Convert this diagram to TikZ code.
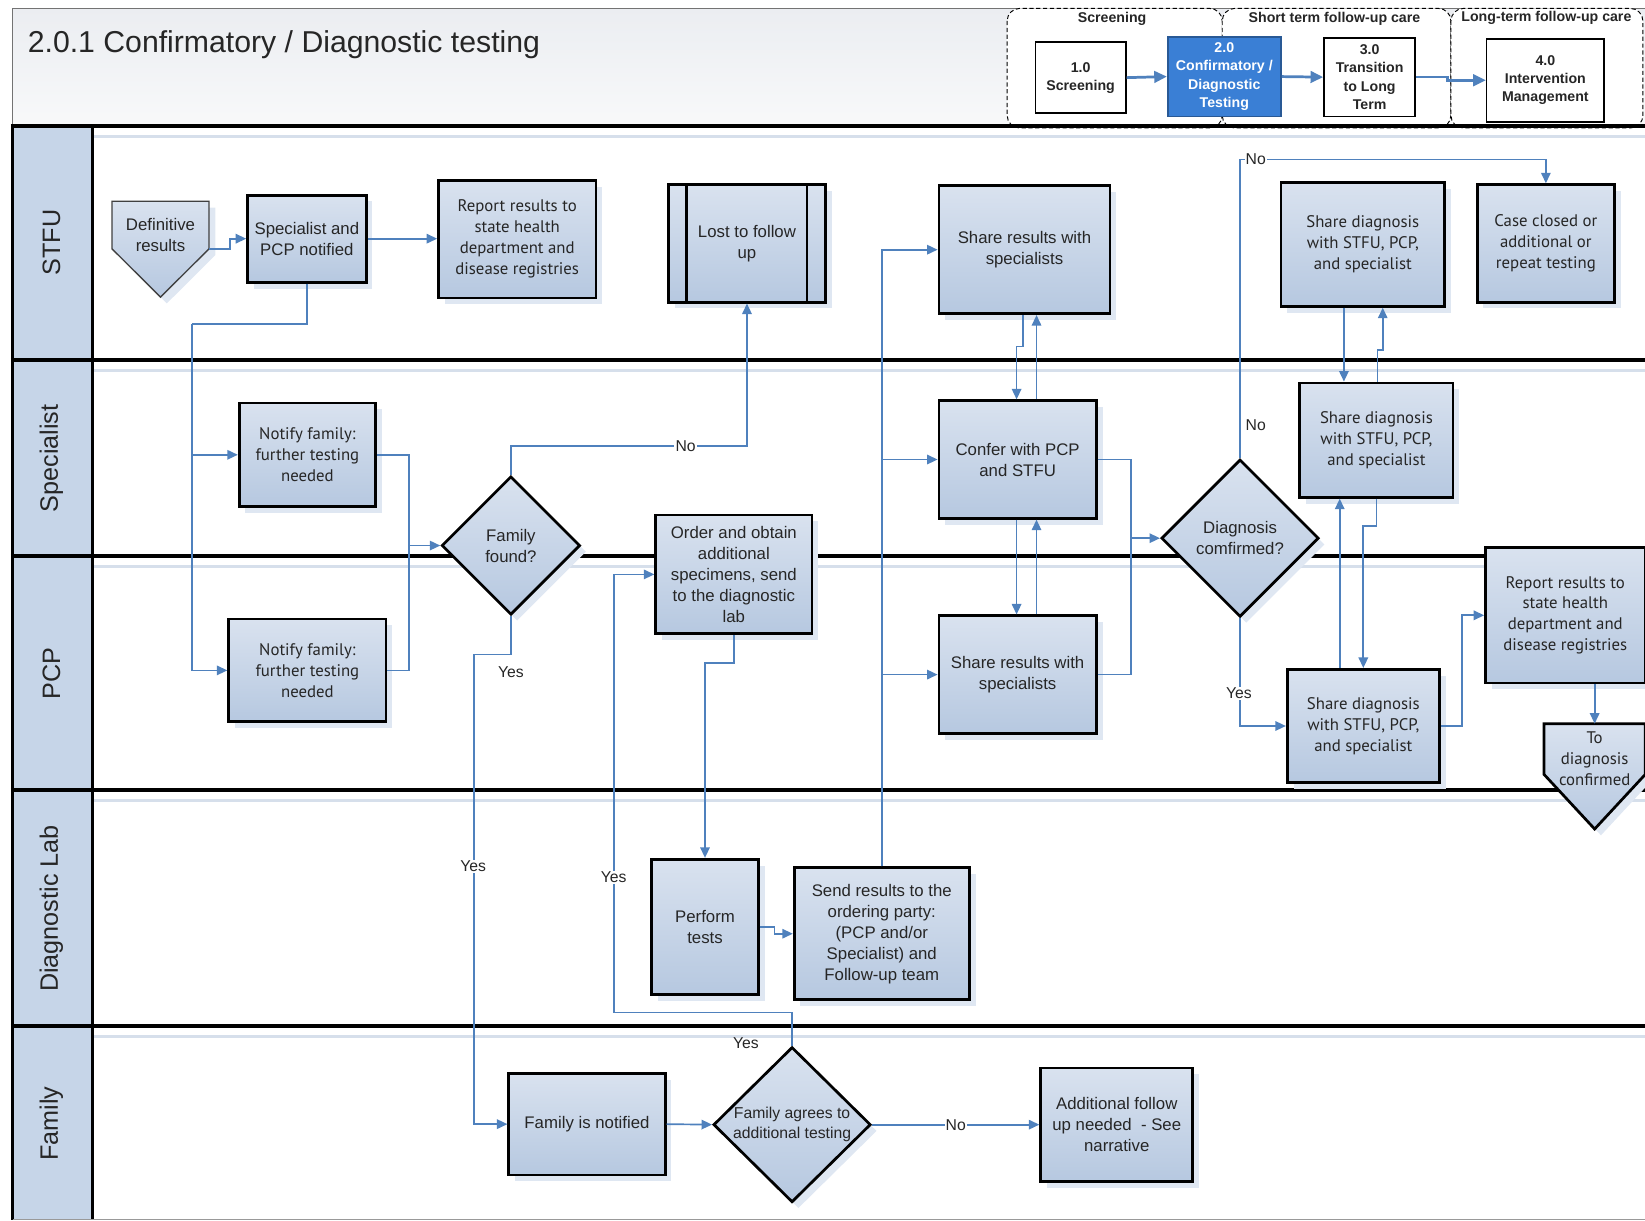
\documentclass[tikz,border=0pt]{standalone}
\usepackage{fontspec}
\setmainfont{Liberation Sans}
\newfontfamily\humanist{PT Sans}
\usetikzlibrary{shapes.geometric,arrows.meta,shadows,calc}

\definecolor{lanefill}{HTML}{C6D5E8}
\definecolor{flow}{HTML}{4F81BD}
\definecolor{boxtop}{HTML}{D9E2EF}
\definecolor{boxbot}{HTML}{B6C8E0}
\definecolor{boxshadow}{HTML}{DFE7F2}
\definecolor{stripe}{HTML}{D6DFEB}
\definecolor{stepblue}{HTML}{3A7FD5}
\definecolor{ink}{HTML}{262626}
\definecolor{titletop}{HTML}{EBEDF1}
\definecolor{titlebot}{HTML}{F8F9FA}

\tikzset{
  ar/.style={font=\fontsize{16}{20}\selectfont},
  hu/.style={font=\humanist\fontsize{16}{20}\selectfont},
  gradfill/.style={fill=boxbot,
     path picture={\shade[top color=boxtop, bottom color=boxbot]
       (path picture bounding box.north west) rectangle (path picture bounding box.south east);}},
  softshadow/.style={drop shadow={shadow xshift=6pt, shadow yshift=-6pt, fill=boxshadow, opacity=1}},
  proc/.style={draw=black, line width=2.6pt, gradfill, softshadow,
     align=center, inner sep=1pt, text=ink},
  decision/.style={proc, diamond, shape aspect=1, inner sep=0pt},
  anchorbox/.style={draw=none, fill=none, inner sep=0pt},
  conn/.style={draw=flow, line width=1.6pt},
  arr/.style={conn, -{Triangle[length=10pt,width=9pt]}},
  harr/.style={draw=flow, line width=2.6pt, -{Triangle[length=12pt,width=11pt]}},
  lbl/.style={font=\fontsize{15}{18}\selectfont, text=ink, fill=white, inner sep=1pt},
  lanelbl/.style={font=\fontsize{24}{28}\selectfont, text=ink, rotate=90},
  hgroup/.style={draw=black, line width=0.9pt, rounded corners=12pt, dash pattern=on 4pt off 2.5pt},
  hlabel/.style={font=\bfseries\fontsize{13.5}{15}\selectfont, text=ink},
  hstep/.style={draw=black, line width=1.6pt, fill=white, align=center,
     font=\bfseries\fontsize{13.5}{17.3}\selectfont, text=ink, inner sep=1pt},
}

\begin{document}
\begin{tikzpicture}[x=1pt,y=-1pt]
\useasboundingbox (0,0) rectangle (1568,1163);

% title band
\shade[top color=titletop, bottom color=titlebot] (12,8) rectangle (1568,120);
\draw[black!55, line width=1pt] (12,120) -- (12,8) -- (1568,8);
\node[anchor=west, font=\fontsize{28.8}{32}\selectfont, text=ink] (title) at (23,43)
  {2.0.1 Confirmatory / Diagnostic testing};

% process overview in the header
\draw[hgroup, fill=white] (960,8) rectangle (1165,122);
\draw[hgroup, fill=white] (1165,8) rectangle (1383,122);
\draw[hgroup, fill=white] (1383,8) rectangle (1566,122);
\node[hlabel] (gscr) at (1060,18) {Screening};
\node[hlabel] (gshort) at (1272,18) {Short term follow-up care};
\node[hlabel] (glong) at (1474,17) {Long-term follow-up care};
\node[hstep, minimum width=86pt, minimum height=68pt] (s1) at (1030,74) {1.0\\Screening};
\node[hstep, fill=stepblue, draw=stepblue!70!black, text=white, minimum width=108pt, minimum height=76pt]
  (s2) at (1167,73) {2.0\\Confirmatory /\\Diagnostic\\Testing};
\node[hstep, minimum width=87pt, minimum height=75pt] (s3) at (1305.5,73.5) {3.0\\Transition\\to Long\\Term};
\node[hstep, minimum width=112pt, minimum height=79pt] (s4) at (1473,76.5) {4.0\\Intervention\\Management};
\draw[harr] (s1.east) -- (s2.west);
\draw[harr] (s2.east) -- (s3.west);
\draw[harr] (s3.east) -- ++(30,0) |- (s4.west);

% swimlanes
\fill[lanefill] (12,120) rectangle (88,1163);
\foreach \yy in {120,343,530,753,978}{
  \draw[stripe, line width=3pt] (90,\yy+10) -- (1568,\yy+10);
}
\foreach \yy in {120,343,530,753,978}{
  \draw[black, line width=3.2pt] (10.4,\yy) -- (1568,\yy);
}
\draw[black, line width=3.2pt] (12,120) -- (12,1163);
\draw[black, line width=3.2pt] (88,120) -- (88,1163);
\draw[black!40, line width=1pt] (12,1162.5) -- (1568,1162.5);

\node[lanelbl] (lstfu) at (49,231) {STFU};
\node[lanelbl] (lspec) at (49,437) {Specialist};
\node[lanelbl] (lpcp) at (49,642) {PCP};
\node[lanelbl] (llab) at (49,866) {Diagnostic Lab};
\node[lanelbl] (lfam) at (49,1071) {Family};

% ---------- STFU ----------
\node[anchorbox, minimum width=92pt, minimum height=45pt] (def) at (153,214.5) {};
\filldraw[gradfill, softshadow, draw=black!75, line width=1.3pt]
  (def.north west) -- (def.north east) -- (def.south east) -- ($(def.south)+(0,46)$)
  -- (def.south west) -- cycle;
\node[ar, align=center, text=ink] (deftxt) at (153,224) {Definitive\\results};

\node[proc, ar, minimum width=113pt, minimum height=83pt] (spn) at (292.5,227.5) {Specialist and\\PCP notified};
\node[proc, hu, minimum width=150pt, minimum height=112pt] (rep1) at (493,228)
  {Report results to\\state health\\department and\\disease registries};
\node[proc, ar, minimum width=150pt, minimum height=112pt] (lost) at (712,232) {Lost to follow\\up};
\draw[black, line width=2.6pt] ([xshift=19pt]lost.north west) -- ([xshift=19pt]lost.south west);
\draw[black, line width=2.6pt] ([xshift=-19pt]lost.north east) -- ([xshift=-19pt]lost.south east);
\node[proc, ar, minimum width=163pt, minimum height=122pt] (shr1) at (976.5,238) {Share results with\\specialists};
\node[proc, hu, minimum width=156pt, minimum height=118pt] (sd1) at (1299,233)
  {Share diagnosis\\with STFU, PCP,\\and specialist};
\node[proc, hu, minimum width=131pt, minimum height=112pt] (cc) at (1473.5,232)
  {Case closed or\\additional or\\repeat testing};

% ---------- Specialist ----------
\node[proc, hu, minimum width=130pt, minimum height=99pt] (nf1) at (293,433.5)
  {Notify family:\\further testing\\needed};
\node[decision, ar, minimum width=132pt, minimum height=132pt] (ff) at (487,520) {Family\\found?};
\node[proc, ar, minimum width=149pt, minimum height=113pt] (ord) at (699.5,547.5)
  {Order and obtain\\additional\\specimens, send\\to the diagnostic\\lab};
\node[proc, ar, minimum width=150pt, minimum height=112pt] (conf) at (970,438) {Confer with PCP\\and STFU};
\node[decision, ar, minimum width=150pt, minimum height=150pt] (dc) at (1182,513) {Diagnosis\\comfirmed?};
\node[proc, hu, minimum width=146pt, minimum height=109pt] (sd2) at (1312,419.5)
  {Share diagnosis\\with STFU, PCP,\\and specialist};

% ---------- PCP ----------
\node[proc, hu, minimum width=150pt, minimum height=98pt] (nf2) at (293,639)
  {Notify family:\\further testing\\needed};
\node[proc, ar, minimum width=150pt, minimum height=112pt] (shr2) at (970,643) {Share results with\\specialists};
\node[proc, hu, minimum width=145pt, minimum height=108pt] (sd3) at (1299.5,692)
  {Share diagnosis\\with STFU, PCP,\\and specialist};
\node[proc, hu, minimum width=152pt, minimum height=129pt] (rep2) at (1492,586.5)
  {Report results to\\state health\\department and\\disease registries};
\node[anchorbox, minimum width=96pt, minimum height=48pt] (tdc) at (1520,714) {};
\filldraw[gradfill, softshadow, draw=black, line width=2.6pt]
  (tdc.north west) -- (tdc.north east) -- (tdc.south east) -- ($(tdc.south)+(0,52)$)
  -- (tdc.south west) -- cycle;
\node[hu, align=center, text=ink] (tdctxt) at (1520,723) {To\\diagnosis\\confirmed};

% ---------- Diagnostic Lab ----------
\node[proc, ar, minimum width=102pt, minimum height=129pt] (pt) at (672,883.5) {Perform\\tests};
\node[proc, ar, minimum width=167pt, minimum height=126pt] (sr) at (840.5,890)
  {Send results to the\\ordering party:\\(PCP and/or\\Specialist) and\\Follow-up team};

% ---------- Family ----------
\node[proc, ar, minimum width=149pt, minimum height=97pt] (fn) at (559.5,1071.5) {Family is notified};
\node[decision, minimum width=150pt, minimum height=148pt, font=\fontsize{15}{19}\selectfont]
  (fa) at (755,1072) {Family agrees to\\additional testing};
\node[proc, ar, minimum width=145pt, minimum height=108pt] (af) at (1064.5,1072)
  {Additional follow\\up needed\ \ - See\\narrative};

% ---------- connectors ----------
\draw[arr] (def.south east) -- ++(20,0) |- (spn.west);
\draw[arr] (spn.east) -- (spn.east -| rep1.west);

\coordinate (j1) at (183,309);
\draw[conn] (spn.south) |- (j1);
\draw[arr] (j1) |- (nf1.west);
\draw[arr] (j1) |- (nf2.west);

\coordinate (j2) at (390,520);
\draw[arr] (nf1.east) -| (j2) -- (ff.west);
\draw[conn] (nf2.east) -| (j2);

\coordinate (j5) at (712,425);
\draw[arr] (ff.north) |- node[lbl, pos=0.87] {No} (j5) -- (lost.south);

\coordinate (j6) at (452,624);
\draw[arr] (ff.south) |- (j6) |- (fn.west);
\node[lbl, fill=none] (yes1) at (487,641) {Yes};
\node[lbl] (yes2) at (451,826) {Yes};

\draw[arr] (fn.east) -- (fa.west);
\draw[arr] (fa.east) -- node[lbl] {No} (af.west);

\coordinate (j9) at (585,965);
\draw[arr] (fa.north) |- (j9) |- (ord.west);
\node[lbl] (yes3) at (585,836) {Yes};
\node[lbl, fill=none] (yes4) at (711,994) {Yes};

\coordinate (j10) at (672,632);
\draw[arr] (ord.south) |- (j10) -- (pt.north);
\draw[arr] (pt.east) -- ++(14,0) |- (sr.west);

\draw[arr] (sr.north) |- (shr1.west);
\draw[arr] (sr.north) |- (conf.west);
\draw[arr] (sr.north) |- (shr2.west);

\draw[arr] ([xshift=-1.5pt]shr1.south) -- ++(0,30) -| ([xshift=-1pt]conf.north);
\draw[arr] ([xshift=18pt]conf.north) -- ([xshift=18pt]conf.north |- shr1.south);
\draw[arr] ([xshift=-1pt]conf.south) -- ([xshift=-1pt]shr2.north);
\draw[arr] ([xshift=18pt]shr2.north) -- ([xshift=18pt]conf.south);

\coordinate (j15) at (1078,513);
\draw[arr] (conf.east) -| (j15) -- (dc.west);
\draw[conn] (shr2.east) -| (j15);

\coordinate (j16) at (1182,152);
\draw[arr] (dc.north) -- (j16) -| (cc.north);
\node[lbl] (no3) at (1197,152) {No};
\node[lbl, fill=none] (no4) at (1197,405) {No};

\draw[arr] (dc.south) |- (sd3.west);
\node[lbl] (yes5) at (1181,661) {Yes};

\draw[arr] ([xshift=-22.5pt]sd3.north) -- ([xshift=-22.5pt]sd3.north |- sd2.south);
\draw[arr] (sd2.south) -- ++(0,26) -| (sd3.north);
\draw[arr] ([xshift=-18pt]sd1.south) -- ([xshift=-18pt]sd1.south |- sd2.north);
\draw[arr] ([xshift=1pt]sd2.north) -- ++(0,-30) -| ([xshift=19pt]sd1.south);

\draw[arr] (sd3.east) -| ($(rep2.west)+(-21,0)$) -- (rep2.west);
\draw[arr] (tdc.north |- rep2.south) -- (tdc.north);
\end{tikzpicture}
\end{document}
